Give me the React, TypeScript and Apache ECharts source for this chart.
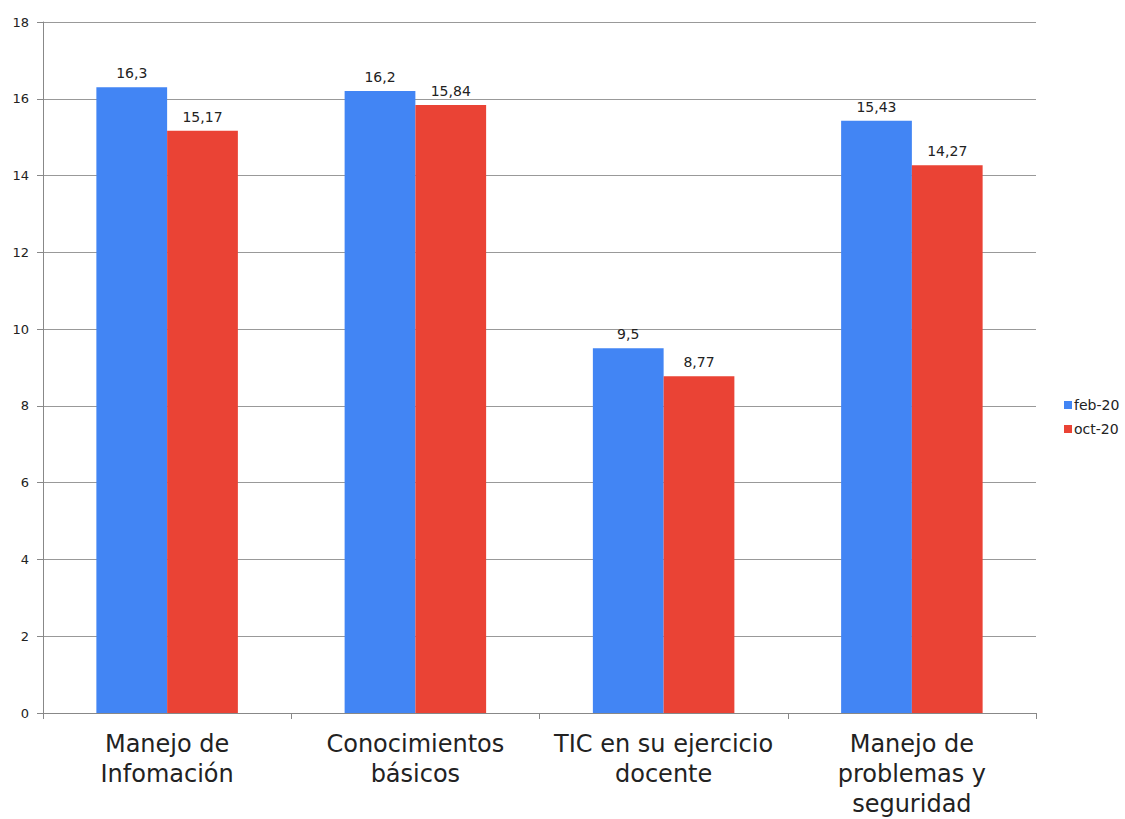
import React, { useEffect, useRef } from "react";
import * as echarts from "echarts";

const categories = [
  "Manejo de\nInfomación",
  "Conocimientos\nbásicos",
  "TIC en su ejercicio\ndocente",
  "Manejo de\nproblemas y\nseguridad",
];
const feb20 = [16.3, 16.2, 9.5, 15.43];
const oct20 = [15.17, 15.84, 8.77, 14.27];
const seriesNames = ["feb-20", "oct-20"];

const fmt = (v: number) => String(v).replace(".", ",");
const FONT = "DejaVu Sans, Liberation Sans, Arial, sans-serif";

export default function App() {
  const ref = useRef<HTMLDivElement>(null);
  useEffect(() => {
    document.body.style.margin = "0";
    const chart = echarts.init(ref.current!, null, { renderer: "svg" });
    const labelCfg = {
      show: true,
      position: "top" as const,
      distance: 7,
      fontFamily: FONT,
      fontSize: 14,
      color: "#222",
      formatter: (p: any) => fmt(p.value),
    };
    chart.setOption({
      animation: false,
      backgroundColor: "#fff",
      grid: { left: 43, right: 89, top: 22, bottom: 105 },
      legend: {
        orient: "vertical",
        left: 1059,
        top: 393,
        itemWidth: 8,
        itemHeight: 8,
        itemGap: 10,
        icon: "rect",
        textStyle: {
          fontFamily: FONT,
          fontSize: 14,
          color: "#222",
          padding: [0, 0, 0, -3],
        },
        data: seriesNames,
      },
      xAxis: {
        type: "category",
        data: categories,
        axisLine: { lineStyle: { color: "#888", width: 1 } },
        axisTick: { show: true, length: 6, lineStyle: { color: "#888" } },
        axisLabel: {
          fontFamily: FONT,
          fontSize: 24,
          color: "#222",
          lineHeight: 30,
          margin: 16,
          interval: 0,
        },
      },
      yAxis: {
        type: "value",
        min: 0,
        max: 18,
        interval: 2,
        axisLine: { show: true, lineStyle: { color: "#888", width: 1 } },
        axisTick: { show: true, length: 6, lineStyle: { color: "#888" } },
        splitLine: { lineStyle: { color: "#999", width: 1 } },
        axisLabel: {
          fontFamily: FONT,
          fontSize: 13,
          color: "#222",
          margin: 14,
        },
      },
      series: [
        {
          name: seriesNames[0],
          type: "bar",
          data: feb20,
          barGap: "0%",
          barCategoryGap: "43%",
          itemStyle: { color: "#4285F4" },
          label: labelCfg,
        },
        {
          name: seriesNames[1],
          type: "bar",
          data: oct20,
          itemStyle: { color: "#EA4335" },
          label: labelCfg,
        },
      ],
    });
    return () => chart.dispose();
  }, []);
  return (
    <div
      ref={ref}
      style={{ position: "absolute", left: 0, top: 0, width: 1125, height: 819 }}
    />
  );
}
